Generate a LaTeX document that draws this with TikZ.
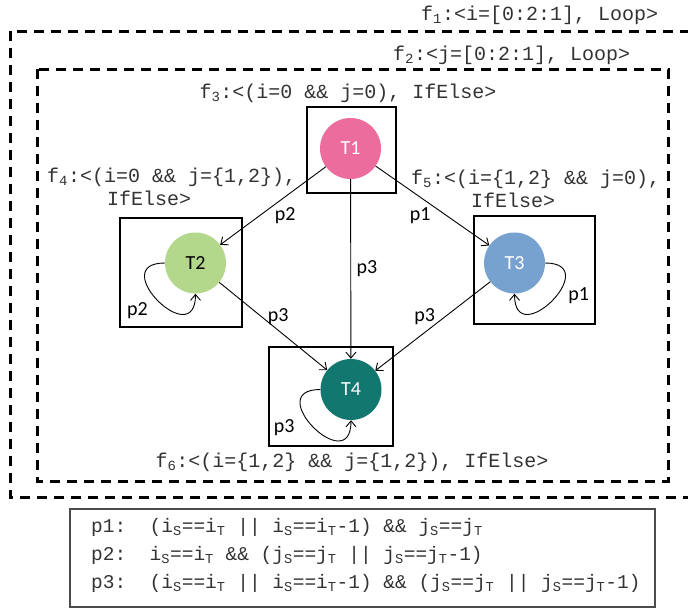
\documentclass[tikz,border=0pt]{standalone}
\usepackage{fontspec}
\newfontfamily\codefont{Liberation Mono}
\newfontfamily\labelfont{Carlito}
\usepackage{xcolor}
\usetikzlibrary{arrows.meta}
\definecolor{tpink}{HTML}{EC6D9D}
\definecolor{tgreen}{HTML}{B3D78B}
\definecolor{tblue}{HTML}{77A2CF}
\definecolor{tteal}{HTML}{12786F}
\newcommand\lsub[1]{\textsubscript{#1}}
\tikzset{
	task/.style={circle, minimum size=61, inner sep=0pt, font=\labelfont\fontsize{20}{22}\selectfont},
	taskbox/.style={draw, line width=2.5},
	loopframe/.style={draw, line width=3, dash pattern=on 10pt off 7pt},
	flow/.style={-{Straight Barb[length=6pt,width=10pt]}, line width=0.9},
	lbl/.style={font=\labelfont\fontsize{20}{22}\selectfont, inner sep=1.5},
	code/.style={font=\codefont\fontsize{20}{23}\selectfont, text=black!80, inner sep=0}
}

\begin{document}
\begin{tikzpicture}[x=1pt,y=1pt]
	\useasboundingbox (0,0) rectangle (688,-608);
	\clip (0,0) rectangle (688,-608);
	\draw[loopframe] (10,-31) rectangle (700,-497);
	\draw[loopframe] (37,-69) rectangle (668,-481);
	\node[code, anchor=west] (f1) at (421,-15) {f\lsub{1}:<i=[0:2:1], Loop>};
	\node[code, anchor=west] (f2) at (393,-55) {f\lsub{2}:<j=[0:2:1], Loop>};
	\node[code] (f3) at (348,-93) {f\lsub{3}:<(i=0 \&\& j=0), IfElse>};
	\node[code, anchor=west, align=left] (f4) at (47,-186.5) {f\lsub{4}:<(i=0 \&\& j=\{1,2\}),\\\hspace*{60pt}IfElse>};
	\node[code, anchor=west, align=left] (f5) at (411,-188.5) {f\lsub{5}:<(i=\{1,2\} \&\& j=0),\\\hspace*{60pt}IfElse>};
	\node[code] (f6) at (352,-462) {f\lsub{6}:<(i=\{1,2\} \&\& j=\{1,2\}), IfElse>};

	\draw[taskbox] (307,-107) rectangle (396,-193);
	\draw[taskbox] (120,-218) rectangle (242,-327);
	\draw[taskbox] (474,-216) rectangle (595,-324);
	\draw[taskbox] (269,-347) rectangle (393,-446);
	\node[task, fill=tpink, text=white] (T1) at (350.5,-148.5) {T1};
	\node[task, fill=tgreen] (T2) at (195.5,-263) {T2};
	\node[task, fill=tblue, text=white] (T3) at (514.5,-263) {T3};
	\node[task, fill=tteal, text=white] (T4) at (351,-389.5) {T4};

	\draw[flow] (T1) -- (T2) node[lbl, pos=.5, anchor=north west] {p2};
	\draw[flow] (T1) -- (T3) node[lbl, pos=.5, anchor=north east] {p1};
	\draw[flow] (T1) -- (T4) node[lbl, pos=.5, anchor=west, xshift=4] {p3};
	\draw[flow] (T2) -- (T4) node[lbl, pos=.5, anchor=south, xshift=5] {p3};
	\draw[flow] (T3) -- (T4) node[lbl, pos=.5, anchor=south, xshift=-8] {p3};
	\draw[flow] (T2.west) to[out=180, in=270, looseness=3.5] node[lbl, pos=.5, anchor=north east, xshift=-8] {p2} (T2.south);
	\draw[flow] (T3.east) to[out=0, in=270, looseness=3.5] node[lbl, pos=.45, anchor=west, xshift=10] {p1} (T3.south);
	\draw[flow] (T4.west) to[out=180, in=270, looseness=3.5] node[lbl, pos=.4, anchor=north east, xshift=-9] {p3} (T4.south);

	\draw[draw=black!70, line width=1.5] (70,-509) rectangle (655,-607);
	\node[code, anchor=west, align=left, font=\codefont\fontsize{19.5}{28}\selectfont] (pdefs) at (91,-555) {p1:~~(i\lsub{S}==i\lsub{T} || i\lsub{S}==i\lsub{T}-1) \&\& j\lsub{S}==j\lsub{T}\\
		p2:~~i\lsub{S}==i\lsub{T} \&\& (j\lsub{S}==j\lsub{T} || j\lsub{S}==j\lsub{T}-1)\\
		p3:~~(i\lsub{S}==i\lsub{T} || i\lsub{S}==i\lsub{T}-1) \&\& (j\lsub{S}==j\lsub{T} || j\lsub{S}==j\lsub{T}-1)};
\end{tikzpicture}
\end{document}
